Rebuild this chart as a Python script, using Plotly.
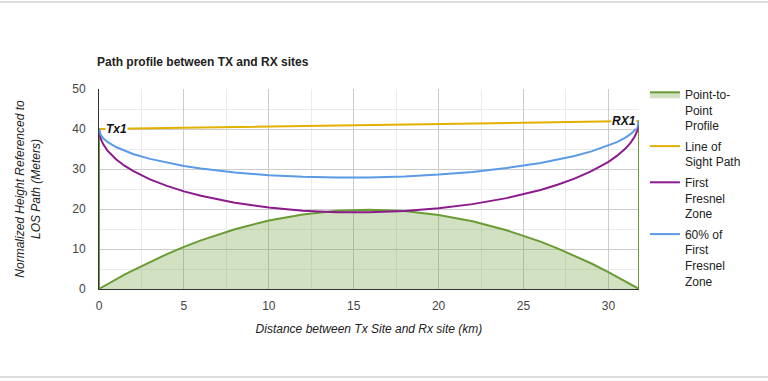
import plotly.graph_objects as go

# Distance along path (km)
dist = [0, 0.1, 0.25, 0.5, 1, 1.5, 2, 3, 4, 5, 6, 8, 10, 12, 14, 15.9, 18, 20, 22, 24, 26, 27, 28, 29, 30, 30.5, 31, 31.3, 31.55, 31.7, 31.8]

los = [40.0, 40.01, 40.02, 40.03, 40.06, 40.09, 40.13, 40.19, 40.25, 40.31, 40.38, 40.50, 40.63, 40.75, 40.88, 41.0, 41.13, 41.26, 41.38, 41.51, 41.64, 41.70, 41.76, 41.82, 41.89, 41.92, 41.95, 41.97, 41.98, 41.99, 42.0]

fresnel1 = [40.0, 37.56, 36.16, 34.60, 32.44, 30.83, 29.52, 27.42, 25.77, 24.41, 23.29, 21.55, 20.35, 19.58, 19.20, 19.16, 19.48, 20.16, 21.22, 22.72, 24.77, 26.06, 27.59, 29.45, 31.79, 33.27, 35.11, 36.53, 38.13, 39.55, 42.0]

fresnel60 = [40.0, 38.54, 37.70, 36.77, 35.49, 34.54, 33.76, 32.53, 31.56, 30.77, 30.12, 29.13, 28.46, 28.05, 27.87, 27.90, 28.14, 28.60, 29.28, 30.23, 31.51, 32.32, 33.26, 34.40, 35.83, 36.73, 37.85, 38.71, 39.67, 40.53, 42.0]

profile_x = [0] + dist + [31.8]
profile_y = [40.0] + [0, 0.25, 0.62, 1.23, 2.42, 3.57, 4.68, 6.78, 8.73, 10.52, 12.15, 14.95, 17.11, 18.65, 19.56, 19.84, 19.50, 18.52, 16.92, 14.69, 11.84, 10.17, 8.35, 6.37, 4.24, 3.11, 1.95, 1.23, 0.62, 0.25, 0] + [42.0]

site_labels = ["Tx1", "RX1"]
site_x = [0.35, 31.7]
site_y = [40.02, 41.99]

fig = go.Figure()
fig.add_trace(go.Scatter(x=profile_x, y=profile_y, mode="lines", name="Point-to-<br>Point<br>Profile",
                         legendgroup="a",
                         line=dict(color="#6a9c35", width=2), fill="tozeroy",
                         fillcolor="rgba(106,156,53,0.30)"))
fig.add_trace(go.Scatter(x=dist, y=los, mode="lines", name="Line of<br>Sight Path", legendgroup="b",
                         line=dict(color="#e2b100", width=2)))
fig.add_trace(go.Scatter(x=dist, y=fresnel1, mode="lines", name="First<br>Fresnel<br>Zone", legendgroup="c",
                         line=dict(color="#8c1a8c", width=2)))
fig.add_trace(go.Scatter(x=dist, y=fresnel60, mode="lines", name="60% of<br>First<br>Fresnel<br>Zone",
                         legendgroup="d",
                         line=dict(color="#5b9be6", width=2)))

fig.add_annotation(x=site_x[0], y=site_y[0], text="<b><i>" + site_labels[0] + "</i></b>", showarrow=False,
                   xanchor="left", yanchor="middle", bgcolor="white", borderpad=0,
                   font=dict(family="Liberation Sans, Arial", size=12, color="#111"))
fig.add_annotation(x=site_x[1], y=site_y[1], text="<b><i>" + site_labels[1] + "</i></b>", showarrow=False,
                   xanchor="right", yanchor="middle", bgcolor="white", borderpad=0,
                   font=dict(family="Liberation Sans, Arial", size=12, color="#111"))

# page border lines
fig.add_shape(type="line", xref="paper", yref="paper", x0=-0.2, x1=1.3, y0=1.435, y1=1.435,
              line=dict(color="#dddddd", width=2))
fig.add_shape(type="line", xref="paper", yref="paper", x0=-0.2, x1=1.3, y0=-0.44, y1=-0.44,
              line=dict(color="#dddddd", width=2))

fig.update_layout(
    width=768, height=381,
    margin=dict(l=99, r=129, t=89, b=92),
    paper_bgcolor="white", plot_bgcolor="white",
    font=dict(family="Liberation Sans, Arial", size=12, color="#444"),
    title=dict(text="<b>Path profile between TX and RX sites</b>", x=97/768, xanchor="left",
               y=1 - 62/381, yanchor="middle", font=dict(size=12, color="#222")),
    legend=dict(x=1.011, xanchor="left", y=1.045, yanchor="top", valign="top",
                font=dict(size=12, color="#222"), maxheight=400, tracegroupgap=2,
                bgcolor="rgba(0,0,0,0)"),
    showlegend=True,
)
fig.update_xaxes(range=[0, 31.8], tickvals=[0, 5, 10, 15, 20, 25, 30], showgrid=True, gridcolor="#cccccc",
                 minor=dict(dtick=2.5, tick0=0, showgrid=True, gridcolor="#ebebeb"),
                 showline=True, linecolor="#333333", linewidth=1, zeroline=False, ticks="",
                 ticklabelstandoff=6,
                 title=dict(text="<i>Distance between Tx Site and Rx site (km)</i>", standoff=12,
                            font=dict(size=12, color="#222")),
                 tickfont=dict(size=12, color="#444"))
fig.update_yaxes(range=[0, 50], dtick=10, showgrid=True, gridcolor="#cccccc",
                 minor=dict(dtick=5, showgrid=True, gridcolor="#ebebeb"),
                 showline=True, linecolor="#333333", linewidth=1, zeroline=False, ticks="",
                 ticklabelstandoff=10,
                 title=dict(text="<i>Normalized Height Referenced to<br>LOS Path (Meters)</i>", standoff=29,
                            font=dict(size=12, color="#222")),
                 tickfont=dict(size=12, color="#444"))

fig.write_html("out.html", config={"displayModeBar": False},
               post_script="document.body.style.margin='0';")
